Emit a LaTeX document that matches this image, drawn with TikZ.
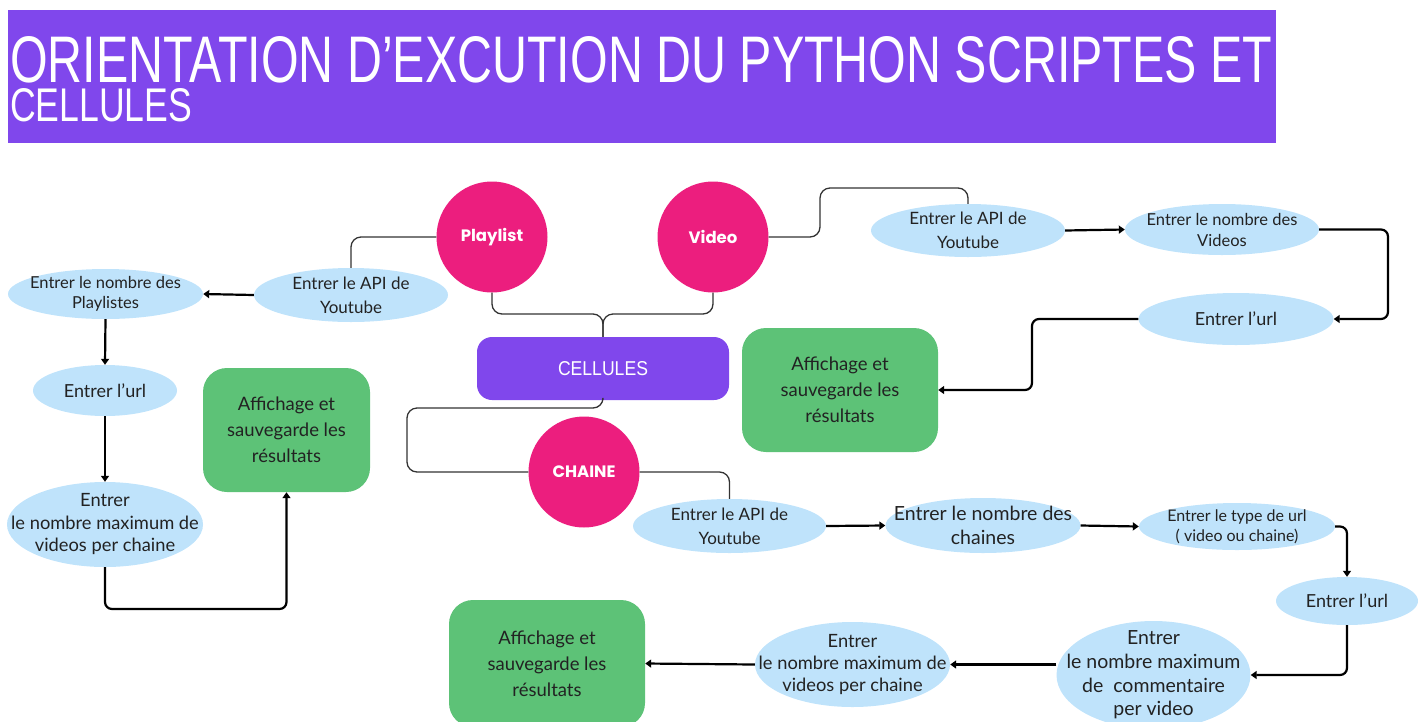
\documentclass[tikz,border=0pt]{standalone}
\usepackage{fontspec}
\usepackage{graphicx}
\setmainfont{Lato}
\newfontfamily\titlefont{Liberation Sans}
\newfontfamily\hubfont{Poppins}
\usetikzlibrary{shapes.geometric,arrows.meta}

\definecolor{violetbar}{HTML}{8047EC}
\definecolor{pinkdot}{HTML}{EC1E7E}
\definecolor{skyfill}{HTML}{BFE3FB}
\definecolor{leafgreen}{HTML}{5DC277}
\definecolor{ink}{HTML}{222222}
\definecolor{wire}{HTML}{333333}

\tikzset{
  txt/.style n args={2}{font=\fontsize{#1}{#2}\selectfont, align=center, text=ink, inner sep=0pt},
  oval/.style={ellipse, fill=skyfill, inner sep=0pt},
  hub/.style={circle, fill=pinkdot, minimum size=111pt, inner sep=0pt, text=white,
    font=\hubfont\bfseries\fontsize{16.5}{18}\selectfont},
  resultbox/.style={rectangle, rounded corners=24pt, fill=leafgreen, inner sep=0pt},
  link/.style={draw=wire, line width=1.3pt, rounded corners=10pt},
  flow/.style={draw=black, line width=2.2pt, rounded corners=7pt,
    -{Triangle[length=6pt,width=8pt]}},
}

\begin{document}
\begin{tikzpicture}[x=1pt, y=-1pt]
\useasboundingbox (0,0) rectangle (1418,721);
\clip (0,0) rectangle (1418,721);

% title banner with its two-line heading
\node[fill=violetbar, minimum width=1268pt, minimum height=133pt, inner sep=0pt,
  anchor=north west] (banner) at (8,10) {};
\node[anchor=north west, inner sep=0pt, text=white] (heading) at (10,36)
  {\vbox{\offinterlineskip\titlefont
    \hbox{\resizebox{1262pt}{46pt}{ORIENTATION D’EXCUTION DU PYTHON SCRIPTES ET}}
    \vskip6pt
    \hbox{\resizebox{182pt}{33pt}{CELLULES}}}};

% hub nodes
\node[hub] (pl) at (492,237) {Playlist};
\node[hub] (vd) at (713,237) {Video};
\node[hub] (ch) at (584,472) {CHAINE};

\node[fill=violetbar, rounded corners=15pt, minimum width=252pt, minimum height=63pt,
  inner sep=0pt, text=white] (cel) at (603,368.5)
  {\resizebox{90pt}{14pt}{\titlefont CELLULES}};

% playlist branch
\node[oval, minimum width=194pt, minimum height=54pt,
  label={[txt={17}{24}]center:Entrer le API de\\Youtube}] (apiP) at (351,295) {};
\node[oval, minimum width=195pt, minimum height=50pt,
  label={[txt={16.5}{19.5}]center:Entrer le nombre des\\Playlistes}] (npl) at (105.5,294) {};
\node[oval, minimum width=144pt, minimum height=51pt,
  label={[txt={18}{22}]center:Entrer l’url}] (urlP) at (105,390.5) {};
\node[oval, minimum width=196pt, minimum height=85pt,
  label={[txt={18.3}{22.5}]center:Entrer\\le nombre maximum de\\videos per chaine}] (maxP) at (105,524.5) {};
\node[resultbox, minimum width=167pt, minimum height=124pt,
  label={[txt={18.5}{26}]center:Affichage et\\sauvegarde les\\résultats}] (resP) at (286.5,430) {};

% video branch
\node[oval, minimum width=194pt, minimum height=53pt,
  label={[txt={17}{24}]center:Entrer le API de\\Youtube}] (apiV) at (968,230.5) {};
\node[oval, minimum width=194pt, minimum height=51pt,
  label={[txt={16.5}{21}]center:Entrer le nombre des\\Videos}] (nvid) at (1222,229.5) {};
\node[oval, minimum width=195pt, minimum height=52pt,
  label={[txt={18}{22}]center:Entrer l’url}] (urlV) at (1236,319) {};
\node[resultbox, minimum width=196pt, minimum height=124pt,
  label={[txt={18.5}{26}]center:Affichage et\\sauvegarde les\\résultats}] (resV) at (840,390) {};

% chaine branch
\node[oval, minimum width=193pt, minimum height=54pt,
  label={[txt={17}{24}]center:Entrer le API de\\Youtube}] (apiC) at (729.5,526) {};
\node[oval, minimum width=195pt, minimum height=55pt,
  label={[txt={19.5}{24}]center:Entrer le nombre des\\chaines}] (nch) at (983,525.5) {};
\node[oval, minimum width=196pt, minimum height=47pt,
  label={[txt={16}{20}]center:Entrer le type de url\\( video ou chaine)}] (typ) at (1237,526.5) {};
\node[oval, minimum width=142pt, minimum height=48pt,
  label={[txt={18}{22}]center:Entrer l’url}] (urlC) at (1347,601) {};
\node[oval, minimum width=194pt, minimum height=108pt,
  label={[txt={19.5}{23.7}]center:Entrer\\le nombre maximum\\de\ \ commentaire\\per video}] (com) at (1153.5,675) {};
\node[oval, minimum width=195pt, minimum height=85pt,
  label={[txt={18.3}{22}]center:Entrer\\le nombre maximum de\\videos per chaine}] (maxC) at (852.5,664.5) {};
\node[resultbox, minimum width=196pt, minimum height=127pt,
  label={[txt={18.5}{26}]center:Affichage et\\sauvegarde les\\résultats}] (resC) at (547,663.5) {};

% links between hubs
\coordinate (fork) at (603,314);
\draw[link] (pl.south) |- (fork) -- (cel.north);
\draw[link] (vd.south) |- (fork) -- (cel.north);
\draw[link] (cel.south) |- (407,408) |- (ch.west);
\draw[link] (pl.west) -| (apiP.north);
\draw[link] (vd.east) -- (820,237) -- (820,188) -| (apiV.north);
\draw[link] (ch.east) -| (apiC.north);

% playlist flow
\draw[flow] (apiP.west) -- (npl.east);
\draw[flow] (npl.south) -- (urlP.north);
\draw[flow] (urlP.south) -- (maxP.north);
\draw[flow] (maxP.south) -- (105,609) -| (resP.south);

% video flow
\draw[flow] (apiV.east) -- (nvid.west);
\draw[flow] (nvid.east) -- (1388,229.5) |- (urlV.east);
\draw[flow] (urlV.west) -- (1032,319) |- (resV.east);

% chaine flow
\draw[flow] (apiC.east) -- (nch.west);
\draw[flow] (nch.east) -- (typ.west);
\draw[flow] (typ.east) -| (urlC.north);
\draw[flow] (urlC.south) |- (com.east);
\draw[flow] (com.west |- maxC.east) -- (maxC.east);
\draw[flow] (maxC.west) -- (resC.east);
\end{tikzpicture}
\end{document}
